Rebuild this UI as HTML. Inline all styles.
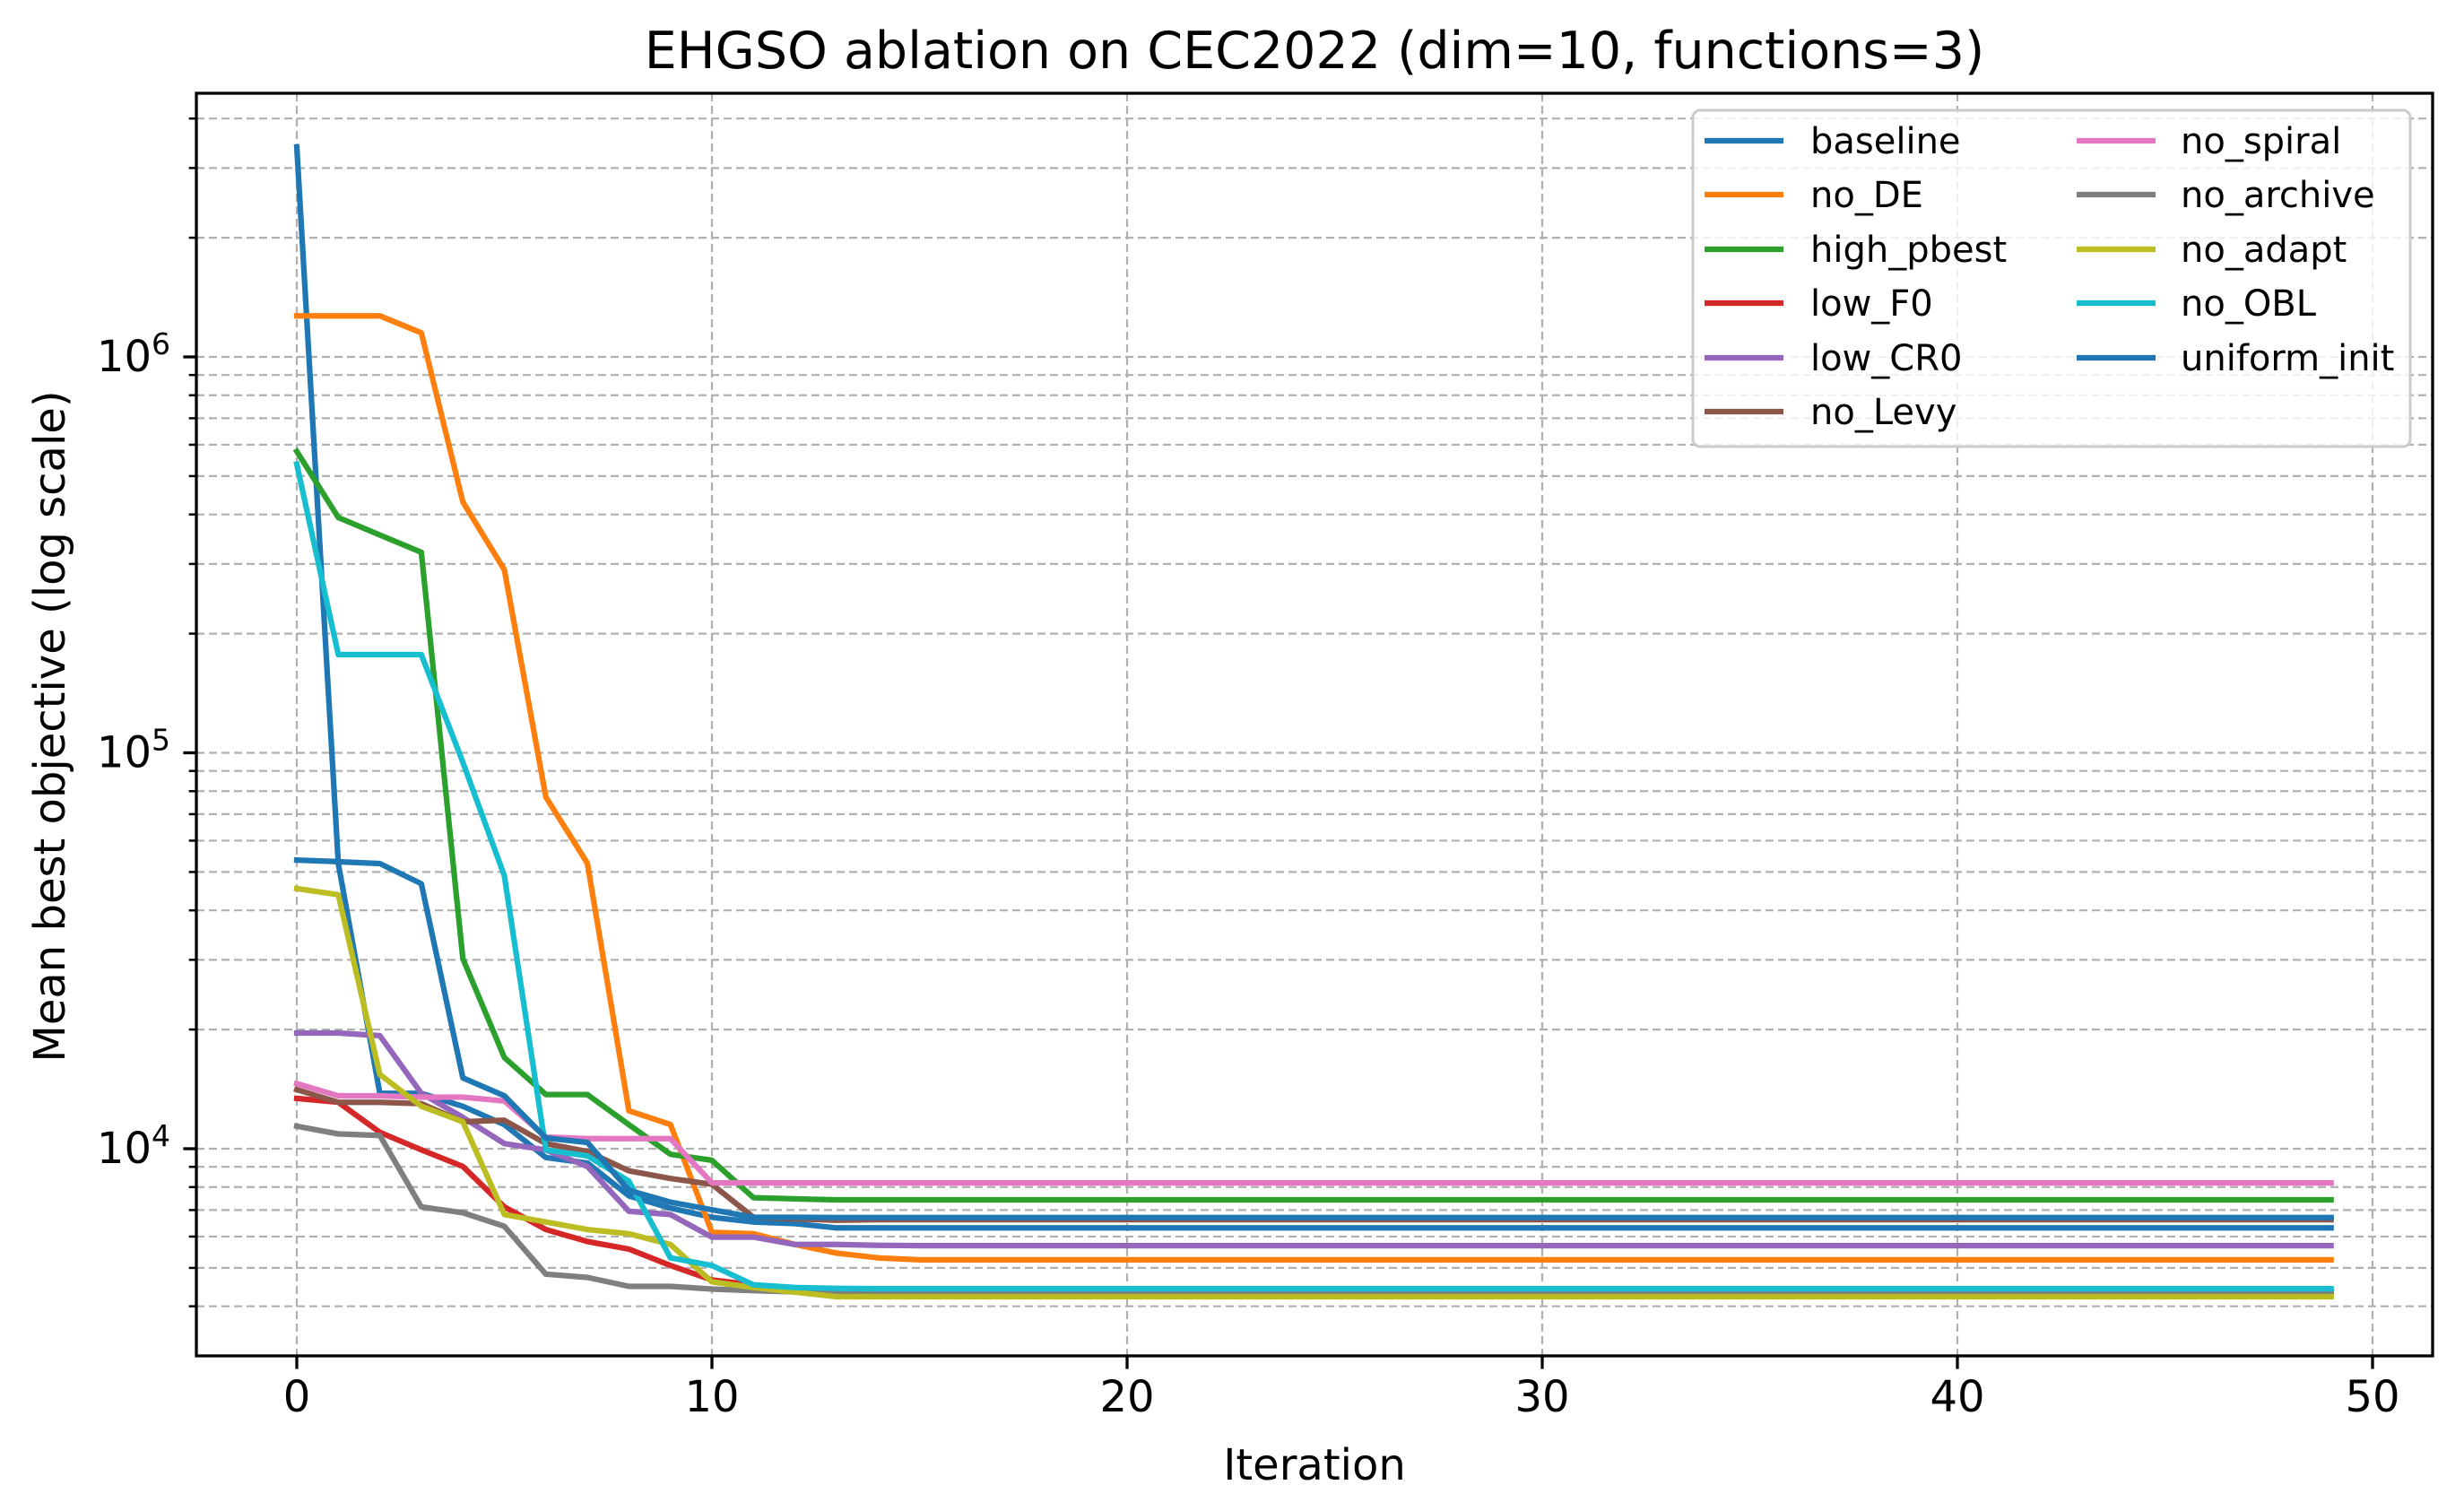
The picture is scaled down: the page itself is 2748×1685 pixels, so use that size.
<!DOCTYPE html>
<html><head><meta charset="utf-8"><title>EHGSO ablation</title>
<style>
html,body{margin:0;padding:0;background:#fff;}
svg{display:block;font-family:"DejaVu Sans","Liberation Sans",sans-serif;}
</style></head>
<body>
<svg id="chart" xmlns="http://www.w3.org/2000/svg" width="2748" height="1685" viewBox="0 0 2748 1685">
<rect x="0" y="0" width="2748" height="1685" fill="#fff"/>
<g id="grid"></g>
<g id="series"></g>
<g id="axes"></g>
<text x="1466" y="76" font-size="57" text-anchor="middle">EHGSO ablation on CEC2022 (dim=10, functions=3)</text>
<text x="1466" y="1650" font-size="48" text-anchor="middle">Iteration</text>
<text x="0" y="0" font-size="48" text-anchor="middle" transform="translate(72,810) rotate(-90)">Mean best objective (log scale)</text>
<g id="legend"></g>
</svg>
<script>
const seriesNames = ["baseline","no_DE","high_pbest","low_F0","low_CR0","no_Levy","no_spiral","no_archive","no_adapt","no_OBL","uniform_init"];
const seriesColors = ["#1f77b4","#ff7f0e","#2ca02c","#d62728","#9467bd","#8c564b","#e377c2","#7f7f7f","#bcbd22","#17becf","#1f77b4"];
const xTicks = [0,10,20,30,40,50];
const yMajorExp = [4,5,6];
const iterations = 50;

function tail(v,n){const a=[];for(let i=0;i<n;i++)a.push(v);return a;}
const baseline = [3390000,52500,13800,13800,12800,11500,9500,9200,7600,7080,6710,6530,6470,6310].concat(tail(6310,36));
const noDE = [1270000,1270000,1270000,1150000,430000,290000,77300,52600,12470,11510,6150,6100,5730,5450,5300,5240].concat(tail(5240,34));
const highPbest = [577000,393000,355000,321000,30200,17000,13700,13700,11500,9680,9350,7520,7470,7430].concat(tail(7430,36));
const lowF0 = [13400,13100,11000,9930,9020,7130,6250,5830,5580,5070,4660,4530,4420,4380,4360].concat(tail(4350,35));
const lowCR0 = [19600,19600,19300,13800,12000,10300,9930,9020,6950,6820,5980,5980,5730,5730,5700].concat(tail(5690,35));
const noLevy = [14100,13100,13100,13000,11700,11800,10300,9840,8790,8410,8130,6710,6650,6600].concat(tail(6620,36));
const noSpiral = [14600,13600,13600,13500,13500,13200,10700,10600,10600,10600,8200,8200].concat(tail(8200,38));
const noArchive = [11400,10900,10800,7130,6890,6370,4820,4730,4490,4490,4420,4380,4350,4330].concat(tail(4325,36));
const noAdapt = [45400,43800,15400,12800,11700,6820,6530,6250,6100,5730,4610,4460,4340,4230].concat(tail(4230,36));
const noOBL = [536000,177000,177000,177000,94600,48900,9930,9590,8280,5300,5070,4530,4460,4440].concat(tail(4430,36));
const uniformInit = [53600,53100,52500,46700,15100,13600,10640,10370,7850,7330,7010,6710,6710,6700].concat(tail(6700,36));
const seriesValues = [baseline,noDE,highPbest,lowF0,lowCR0,noLevy,noSpiral,noArchive,noAdapt,noOBL,uniformInit];

const NS="http://www.w3.org/2000/svg";
const PL=219, PR=2713, PT=104, PB=1512;
const X0=331, XS=46.3;
const Y4=1281, DEC=441.5;
function xPos(i){return X0+i*XS;}
function yPos(v){return Y4-(Math.log10(v)-4)*DEC;}
function mk(tag,attrs,parent){const e=document.createElementNS(NS,tag);for(const k in attrs)e.setAttribute(k,attrs[k]);parent.appendChild(e);return e;}

const grid=document.getElementById('grid');
const axes=document.getElementById('axes');
for(let e=3;e<=6;e++){
  for(let m=1;m<=9;m++){
    const v=m*Math.pow(10,e);
    const y=yPos(v);
    if(y<PT+2||y>PB-4)continue;
    const gl=mk('line',{x1:PL,x2:PR,y1:y,y2:y,stroke:'#b0b0b0','stroke-width':2.2,'stroke-dasharray':'9 5'},grid);
    
    
    const tk=mk('line',{x1:PL-(m===1?14.6:8.3),x2:PL,y1:y,y2:y,stroke:'#000','stroke-width':m===1?3.3:2.5},axes);
    
    
  }
}
yMajorExp.forEach(e=>{
  const y=yPos(Math.pow(10,e));
  const t=mk('text',{x:190,y:y+16,'font-size':48,'text-anchor':'end'},axes);
  
  
  t.appendChild(document.createTextNode('10'));
  const s=mk('tspan',{'font-size':33,dy:-19},t);
  s.textContent=String(e);
});
xTicks.forEach(v=>{
  const x=xPos(v);
  const gl=mk('line',{x1:x,x2:x,y1:PT,y2:PB,stroke:'#b0b0b0','stroke-width':2.2,'stroke-dasharray':'9 5'},grid);
  
  
  const tk=mk('line',{x1:x,x2:x,y1:PB,y2:PB+14.6,stroke:'#000','stroke-width':3.3},axes);
  
  
  const t=mk('text',{x:x,y:1574,'font-size':48,'text-anchor':'middle'},axes);
  
  
  t.textContent=String(v);
});
const frame=mk('rect',{x:PL,y:PT,width:PR-PL,height:PB-PT,fill:'none',stroke:'#000','stroke-width':3.3},axes);



const sg=document.getElementById('series');
seriesValues.forEach((vals,si)=>{
  const pts=vals.map((v,i)=>xPos(i).toFixed(1)+','+yPos(v).toFixed(1)).join(' ');
  const pl=mk('polyline',{points:pts,fill:'none',stroke:seriesColors[si],'stroke-width':6.25,'stroke-linejoin':'round','stroke-linecap':'square'},sg);
  
  
});

const lg=document.getElementById('legend');
const lb=mk('rect',{x:1888,y:123,width:800,height:375,rx:8,fill:'#fff','fill-opacity':0.8,stroke:'#cccccc','stroke-width':3},lg);


const rowY=[157,217,278,338,399,459];
seriesNames.forEach((n,i)=>{
  const col=i<6?0:1, row=i<6?i:i-6;
  const lx=col===0?1901:2316, tx=col===0?2019:2432;
  const y=rowY[row];
  const g=mk('g',{},lg);
  
  
  mk('line',{x1:lx,x2:lx+88,y1:y,y2:y,stroke:seriesColors[i],'stroke-width':6.25},g);
  const t=mk('text',{x:tx,y:y+14,'font-size':40},g);
  t.textContent=n;
});
</script>
</body></html>
